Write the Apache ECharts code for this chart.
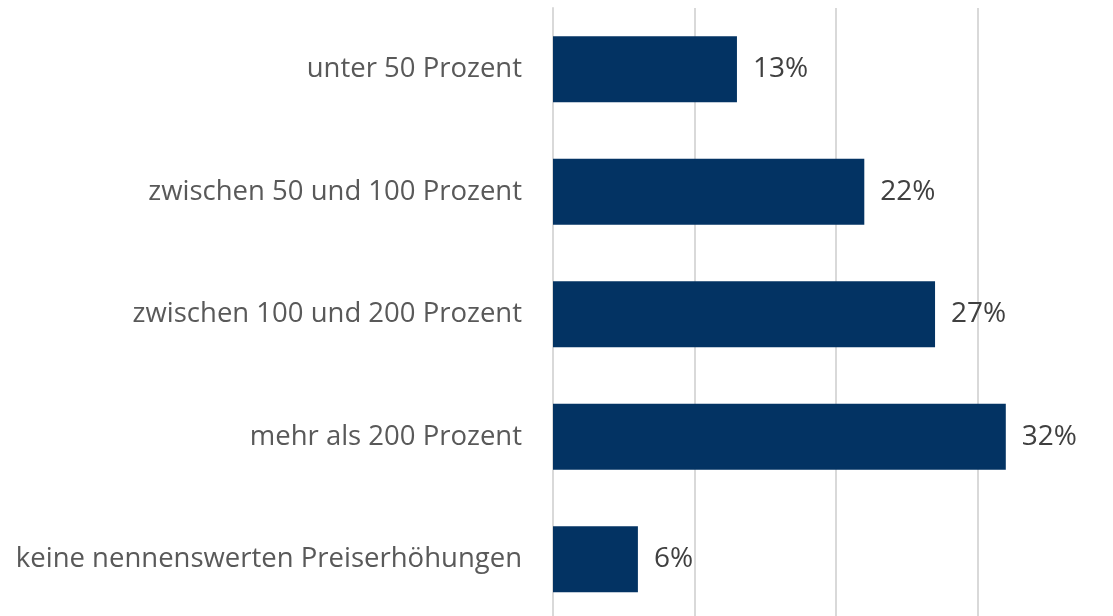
<!DOCTYPE html>
<html>
<head>
<meta charset="utf-8">
<script src="https://cdn.jsdelivr.net/npm/echarts@6/dist/echarts.min.js"></script>
<style>
  html, body { margin: 0; padding: 0; background: #fff; overflow: hidden; }
  /* chart runs slightly past the visible window, as in the cropped original */
  #chart { width: 1124px; height: 624px; }
</style>
</head>
<body>
<div id="chart"></div>
<script>
// categories, top to bottom
const categories = [
  'unter 50 Prozent',
  'zwischen 50 und 100 Prozent',
  'zwischen 100 und 200 Prozent',
  'mehr als 200 Prozent',
  'keine nennenswerten Preiserhöhungen'
]
const shares = [13, 22, 27, 32, 6]

const chart = echarts.init(document.getElementById('chart'))

const option = {
  animation: false,
  textStyle: { fontFamily: 'Open Sans' },
  grid: {
    left: 553,
    top: 8,
    width: 566,
    height: 612.5
  },
  xAxis: {
    type: 'value',
    min: 0,
    max: 40,
    interval: 10,
    axisLabel: { show: false },
    axisLine: { show: false },
    axisTick: { show: false },
    splitLine: { lineStyle: { color: '#d9d9d9', width: 2 } }
  },
  yAxis: {
    type: 'category',
    inverse: true,
    data: categories,
    axisLine: { show: true, lineStyle: { color: '#d9d9d9', width: 2 } },
    axisTick: { show: false },
    axisLabel: {
      margin: 31,
      color: '#595959',
      fontSize: 27.5,
      fontFamily: 'Open Sans'
    }
  },
  series: [{
    type: 'bar',
    data: shares,
    barWidth: '54%',
    itemStyle: { color: '#033363' },
    label: {
      show: true,
      position: 'right',
      distance: 16,
      color: '#404040',
      fontSize: 28,
      fontFamily: 'Open Sans',
      formatter: p => p.value + '%'
    }
  }]
}

chart.setOption(option)
</script>
</body>
</html>
